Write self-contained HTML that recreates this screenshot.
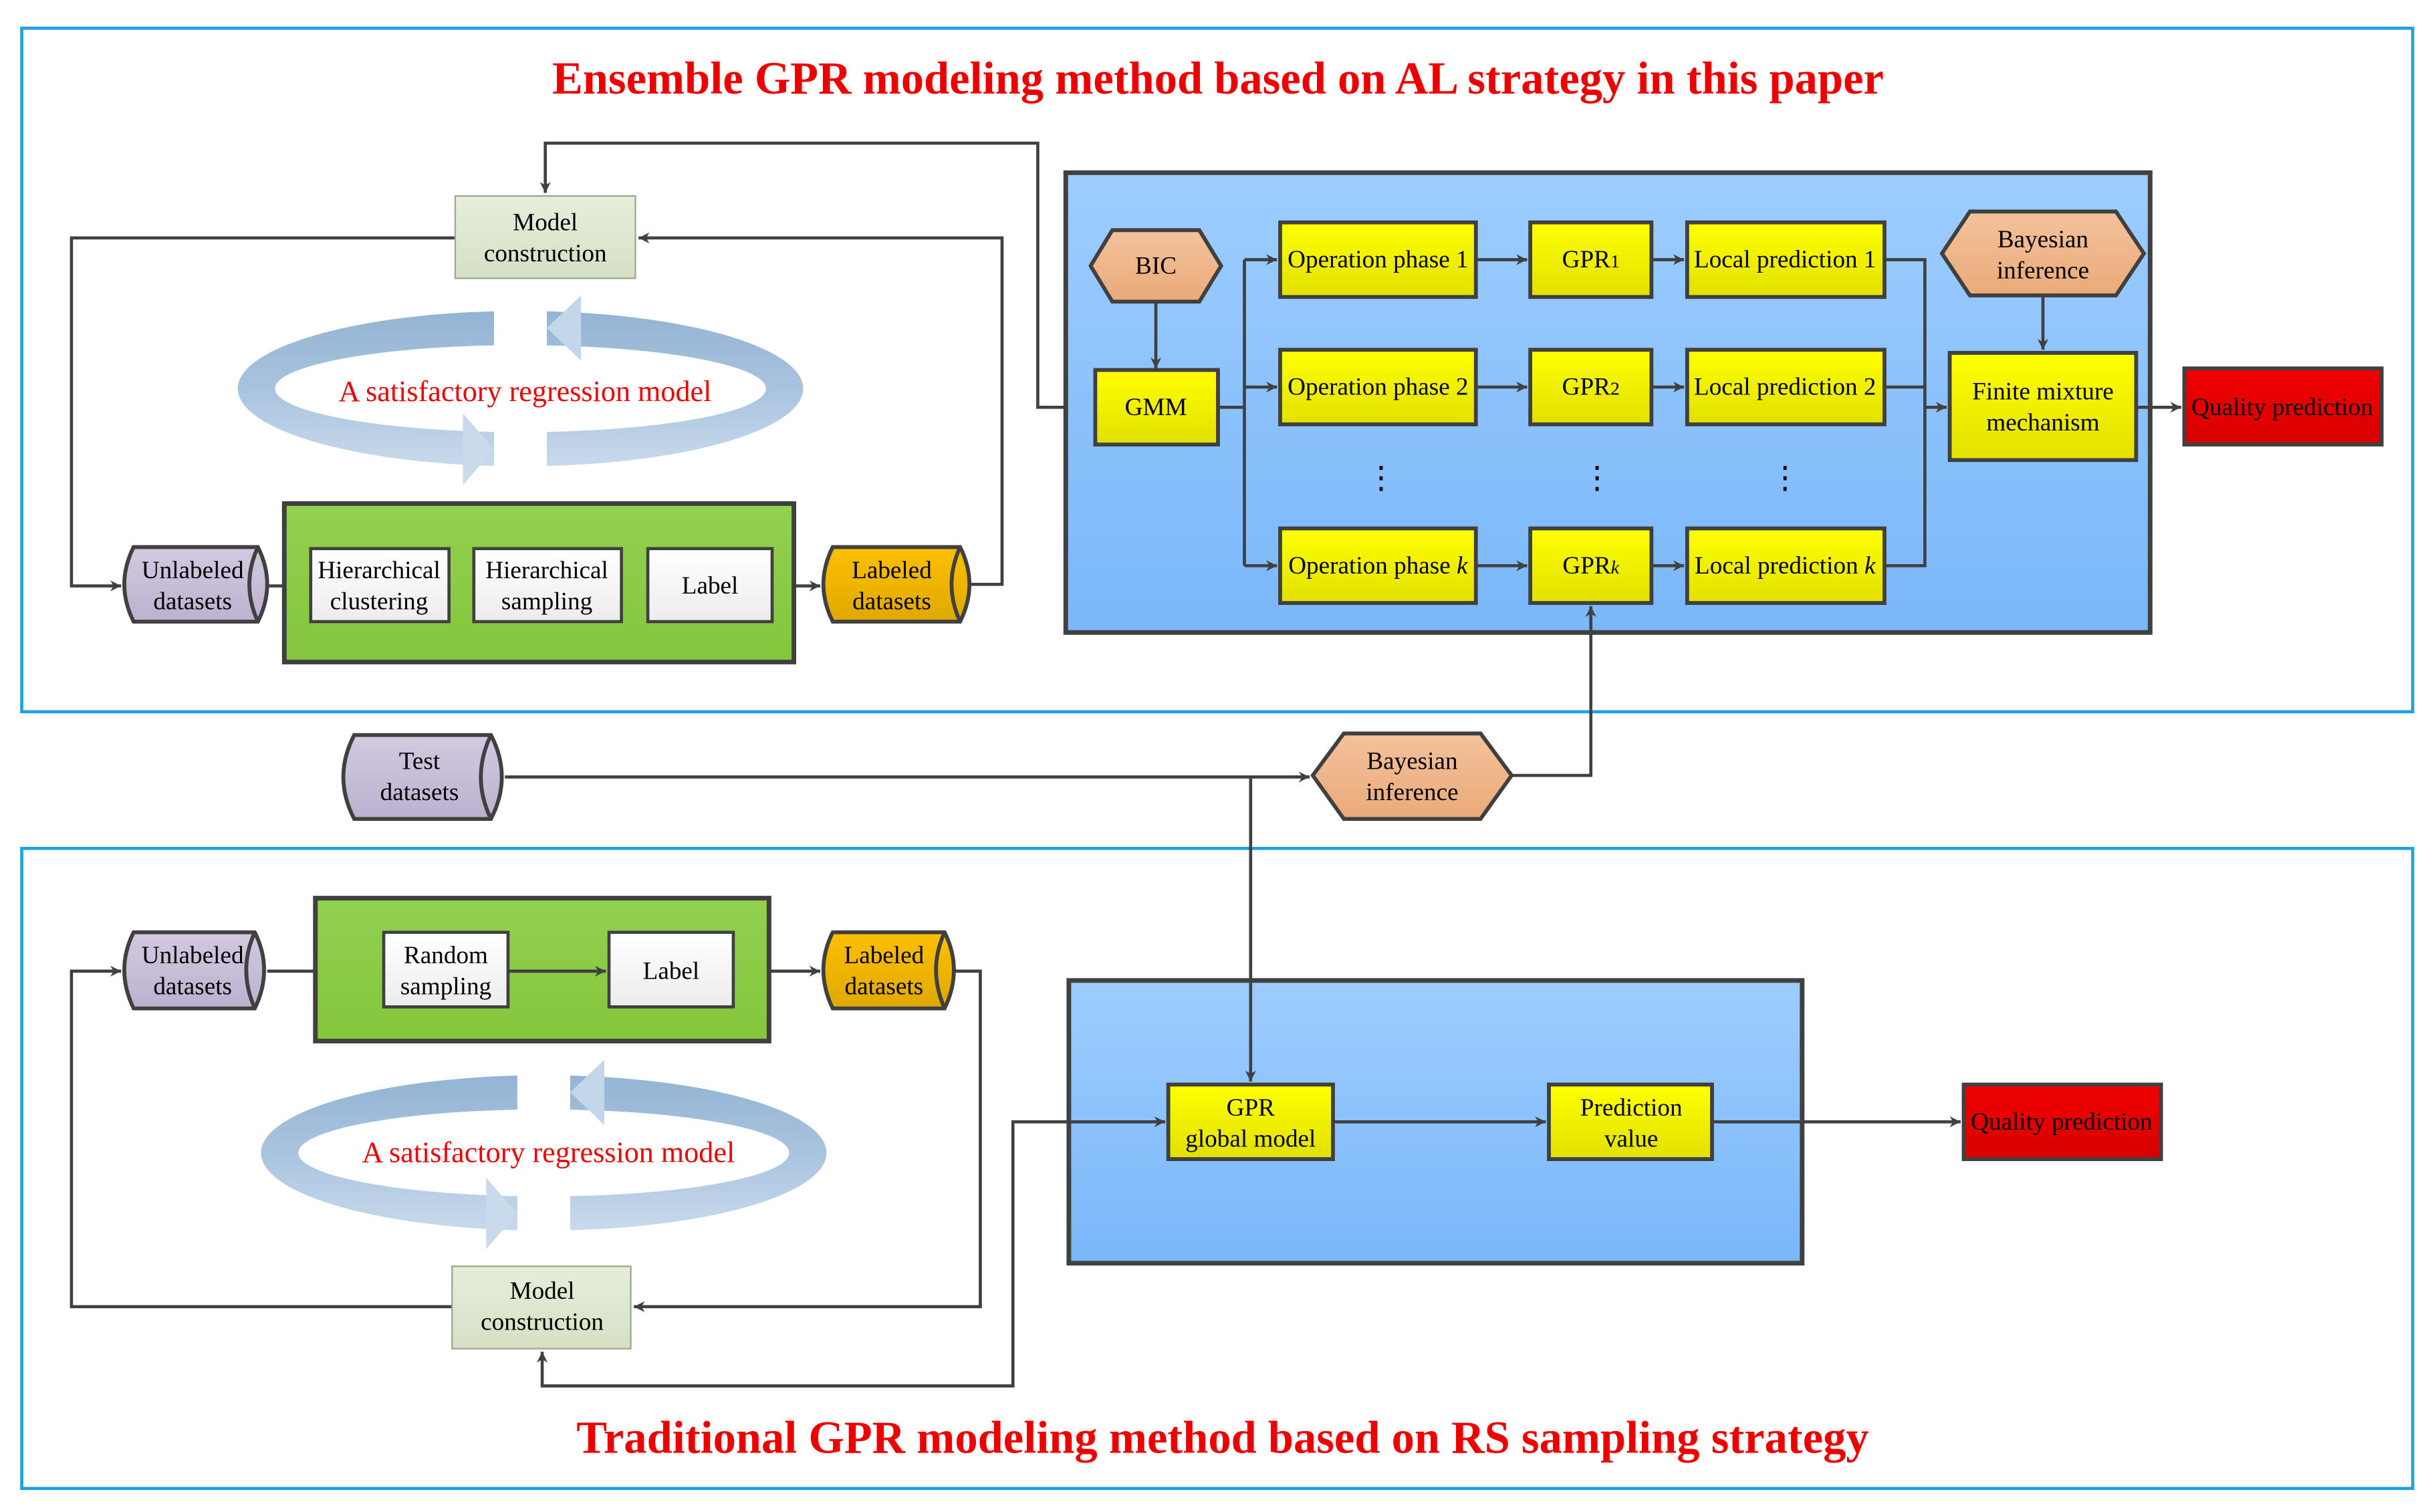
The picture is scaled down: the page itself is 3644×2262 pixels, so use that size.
<!DOCTYPE html>
<html><head><meta charset="utf-8"><style>
html,body{margin:0;padding:0;background:#fff;}
svg{display:block;}
text{font-family:"Liberation Serif","Times New Roman",serif;}
</style></head><body>
<svg width="3644" height="2262" viewBox="0 0 1568 973" xmlns="http://www.w3.org/2000/svg" font-family="Liberation Serif, serif">
<defs>
<marker id="a" viewBox="0 0 10 10" refX="10" refY="5" markerWidth="7" markerHeight="7" markerUnits="userSpaceOnUse" orient="auto-start-reverse">
<path d="M0,0 L10,5 L0,10 L3,5 z" fill="#404040"/></marker>
<linearGradient id="yel" x1="0" y1="0" x2="0" y2="1"><stop offset="0" stop-color="#ffff00"/><stop offset="1" stop-color="#e2e000"/></linearGradient>
<linearGradient id="blue" x1="0" y1="0" x2="0" y2="1"><stop offset="0" stop-color="#9dcdfe"/><stop offset="1" stop-color="#7ab7f9"/></linearGradient>
<linearGradient id="wht" x1="0" y1="0" x2="0" y2="1"><stop offset="0" stop-color="#ffffff"/><stop offset="1" stop-color="#ececec"/></linearGradient>
<linearGradient id="mc" x1="0" y1="0" x2="0" y2="1"><stop offset="0" stop-color="#e6eedb"/><stop offset="1" stop-color="#d6e0c4"/></linearGradient>
<linearGradient id="hex" x1="0" y1="0" x2="0" y2="1"><stop offset="0" stop-color="#f3c29c"/><stop offset="1" stop-color="#eaaa78"/></linearGradient>
<linearGradient id="pur" x1="0" y1="0" x2="0" y2="1"><stop offset="0" stop-color="#d2cae0"/><stop offset="1" stop-color="#bbb1cf"/></linearGradient>
<linearGradient id="org" x1="0" y1="0" x2="0" y2="1"><stop offset="0" stop-color="#fcc000"/><stop offset="1" stop-color="#e0a800"/></linearGradient>
<linearGradient id="grn" x1="0" y1="0" x2="0" y2="1"><stop offset="0" stop-color="#92d050"/><stop offset="1" stop-color="#84c63c"/></linearGradient>
<linearGradient id="red" x1="0" y1="0" x2="0" y2="1"><stop offset="0" stop-color="#f00000"/><stop offset="1" stop-color="#d80000"/></linearGradient>
<linearGradient id="ring" x1="0" y1="0" x2="0" y2="1"><stop offset="0" stop-color="#93b4d5"/><stop offset="0.5" stop-color="#a9c3de"/><stop offset="1" stop-color="#c8daec"/></linearGradient>
<clipPath id="c1"><rect x="0" y="0" width="318" height="400"/><rect x="352" y="0" width="400" height="400"/></clipPath>
<clipPath id="c2"><rect x="0" y="600" width="333" height="300"/><rect x="367" y="600" width="400" height="300"/></clipPath>
</defs>

<rect x="14" y="18" width="1539" height="440" fill="none" stroke="#1ea0e2" stroke-width="2"/>
<rect x="14" y="546" width="1539" height="412" fill="none" stroke="#1ea0e2" stroke-width="2"/>
<text x="784" y="60" text-anchor="middle" font-size="29.5" font-weight="bold" fill="#ee0000">Ensemble GPR modeling method based on AL strategy in this paper</text>
<text x="787" y="935" text-anchor="middle" font-size="29.5" font-weight="bold" fill="#ee0000">Traditional GPR modeling method based on RS sampling strategy</text>

<g stroke="#404040" stroke-width="2" fill="none">
<polyline points="293,153 46,153 46,377 78,377" marker-end="url(#a)"/>
<polyline points="625,376 645,376 645,153 411,153" marker-end="url(#a)"/>
<polyline points="351,124 351,92 668,92 668,262 703,262" marker-start="url(#a)" marker-end="url(#a)"/>
<line x1="172" y1="377" x2="198" y2="377" marker-end="url(#a)"/>
<line x1="289" y1="377" x2="303" y2="377" marker-end="url(#a)"/>
<line x1="400" y1="377" x2="415" y2="377" marker-end="url(#a)"/>
<line x1="497" y1="377" x2="528" y2="377" marker-end="url(#a)"/>
</g>

<g>
<path clip-path="url(#c1)" fill-rule="evenodd" fill="url(#ring)" d="M153,250 A182,50 0 1 0 517,250 A182,50 0 1 0 153,250 Z M177,250 A158,28 0 1 0 493,250 A158,28 0 1 0 177,250 Z"/>
<polygon points="298,266 318,289 298,312" fill="#c8daec"/>
<polygon points="374,190 352,211 374,232" fill="#c4d6ea"/>
<text x="338" y="258" text-anchor="middle" font-size="19" fill="#ee0000">A satisfactory regression model</text>
</g>

<rect x="293" y="126" width="116" height="53" fill="url(#mc)" stroke="#a0a890" stroke-width="1"/>
<text x="351" y="148" text-anchor="middle" font-size="16">Model</text>
<text x="351" y="168" text-anchor="middle" font-size="16">construction</text>

<rect x="183" y="324" width="328" height="102" fill="url(#grn)" stroke="#404040" stroke-width="3"/>
<g stroke="#404040" stroke-width="2">
<rect x="200" y="353" width="89" height="47" fill="url(#wht)"/>
<rect x="305" y="353" width="95" height="47" fill="url(#wht)"/>
<rect x="417" y="353" width="80" height="47" fill="url(#wht)"/>
</g>
<g font-size="16" text-anchor="middle">
<text x="244" y="372">Hierarchical</text><text x="244" y="392">clustering</text>
<text x="352" y="372">Hierarchical</text><text x="352" y="392">sampling</text>
<text x="457" y="382">Label</text>
</g>

<g stroke="#404040" stroke-width="2.5">
<path d="M86,352 L166,352 Q178,376 166,400 L86,400 Q74,376 86,352 Z" fill="url(#pur)"/>
<path d="M166,352 Q155,376 166,400" fill="none"/>
<path d="M536,352 L618,352 Q630,376 618,400 L536,400 Q524,376 536,352 Z" fill="url(#org)"/>
<path d="M618,352 Q607,376 618,400" fill="none"/>
<path d="M228,473 L316,473 Q330,500 316,527 L228,527 Q214,500 228,473 Z" fill="url(#pur)"/>
<path d="M316,473 Q303,500 316,527" fill="none"/>
<path d="M86,600 L164,600 Q176,624 164,649 L86,649 Q74,624 86,600 Z" fill="url(#pur)"/>
<path d="M164,600 Q153,624 164,649" fill="none"/>
<path d="M536,600 L608,600 Q620,624 608,649 L536,649 Q524,624 536,600 Z" fill="url(#org)"/>
<path d="M608,600 Q597,624 608,649" fill="none"/>
</g>
<g font-size="16" text-anchor="middle">
<text x="124" y="372">Unlabeled</text><text x="124" y="392">datasets</text>
<text x="574" y="372">Labeled</text><text x="574" y="392">datasets</text>
<text x="270" y="495">Test</text><text x="270" y="515">datasets</text>
<text x="124" y="620">Unlabeled</text><text x="124" y="640">datasets</text>
<text x="569" y="620">Labeled</text><text x="569" y="640">datasets</text>
</g>

<rect x="686" y="111" width="698" height="296" fill="url(#blue)" stroke="#404040" stroke-width="3"/>
<g stroke="#404040" stroke-width="2" fill="none">
<line x1="744" y1="194" x2="744" y2="237" marker-end="url(#a)"/>
<polyline points="784,262 801,262"/>
<polyline points="801,167 801,364"/>
<line x1="801" y1="167" x2="822" y2="167" marker-end="url(#a)"/>
<line x1="801" y1="249" x2="822" y2="249" marker-end="url(#a)"/>
<line x1="801" y1="364" x2="822" y2="364" marker-end="url(#a)"/>
<line x1="950" y1="167" x2="983" y2="167" marker-end="url(#a)"/>
<line x1="950" y1="249" x2="983" y2="249" marker-end="url(#a)"/>
<line x1="950" y1="364" x2="983" y2="364" marker-end="url(#a)"/>
<line x1="1063" y1="167" x2="1084" y2="167" marker-end="url(#a)"/>
<line x1="1063" y1="249" x2="1084" y2="249" marker-end="url(#a)"/>
<line x1="1063" y1="364" x2="1084" y2="364" marker-end="url(#a)"/>
<polyline points="1213,167 1239,167 1239,364 1213,364"/>
<line x1="1213" y1="249" x2="1239" y2="249"/>
<line x1="1239" y1="262" x2="1253" y2="262" marker-end="url(#a)"/>
<line x1="1315" y1="190" x2="1315" y2="225" marker-end="url(#a)"/>
<line x1="1375" y1="262" x2="1404" y2="262" marker-end="url(#a)"/>
</g>
<g stroke="#404040" stroke-width="2.5">
<polygon points="702,171 716,148 772,148 786,171 772,194 716,194" fill="url(#hex)"/>
<polygon points="1250,163 1268,136 1362,136 1380,163 1362,190 1268,190" fill="url(#hex)"/>
<polygon points="845,499 865,472 953,472 973,499 953,527 865,527" fill="url(#hex)"/>
<rect x="705" y="238" width="79" height="48" fill="url(#yel)"/>
<rect x="824" y="143" width="126" height="48" fill="url(#yel)"/>
<rect x="824" y="225" width="126" height="48" fill="url(#yel)"/>
<rect x="824" y="340" width="126" height="48" fill="url(#yel)"/>
<rect x="985" y="143" width="78" height="48" fill="url(#yel)"/>
<rect x="985" y="225" width="78" height="48" fill="url(#yel)"/>
<rect x="985" y="340" width="78" height="48" fill="url(#yel)"/>
<rect x="1086" y="143" width="127" height="48" fill="url(#yel)"/>
<rect x="1086" y="225" width="127" height="48" fill="url(#yel)"/>
<rect x="1086" y="340" width="127" height="48" fill="url(#yel)"/>
<rect x="1255" y="227" width="120" height="69" fill="url(#yel)"/>
<rect x="1406" y="237" width="127" height="49" fill="url(#red)"/>
</g>
<g font-size="16" text-anchor="middle">
<text x="744" y="176">BIC</text>
<text x="744" y="267">GMM</text>
<text x="887" y="172">Operation phase 1</text>
<text x="887" y="254">Operation phase 2</text>
<text x="887" y="369">Operation phase <tspan font-style="italic">k</tspan></text>
<text x="1024" y="172">GPR<tspan font-size="12">1</tspan></text>
<text x="1024" y="254">GPR<tspan font-size="12">2</tspan></text>
<text x="1024" y="369">GPR<tspan font-size="12" font-style="italic">k</tspan></text>
<text x="1149" y="172">Local prediction 1</text>
<text x="1149" y="254">Local prediction 2</text>
<text x="1149" y="369">Local prediction <tspan font-style="italic">k</tspan></text>
<text x="889" y="314" font-size="20">⋮</text>
<text x="1028" y="314" font-size="20">⋮</text>
<text x="1149" y="314" font-size="20">⋮</text>
<text x="1315" y="159">Bayesian</text><text x="1315" y="179">inference</text>
<text x="1315" y="257">Finite mixture</text><text x="1315" y="277">mechanism</text>
<text x="1469" y="267">Quality prediction</text>
<text x="909" y="495">Bayesian</text><text x="909" y="515">inference</text>
</g>

<g stroke="#404040" stroke-width="2" fill="none">
<line x1="325" y1="500" x2="843" y2="500" marker-end="url(#a)"/>
<polyline points="973,499 1024,499 1024,390" marker-end="url(#a)"/>
<line x1="805" y1="500" x2="805" y2="696" marker-end="url(#a)"/>
</g>

<g stroke="#404040" stroke-width="2" fill="none">
<polyline points="291,841 46,841 46,625 78,625" marker-end="url(#a)"/>
<polyline points="615,625 631,625 631,841 408,841" marker-end="url(#a)"/>
<line x1="172" y1="625" x2="245" y2="625" marker-end="url(#a)"/>
<line x1="472" y1="625" x2="528" y2="625" marker-end="url(#a)"/>
<polyline points="750,722 652,722 652,892 349,892 349,870" marker-start="url(#a)" marker-end="url(#a)"/>
</g>
<rect x="203" y="578" width="292" height="92" fill="url(#grn)" stroke="#404040" stroke-width="3"/>
<g stroke="#404040" stroke-width="2">
<rect x="247" y="600" width="80" height="48" fill="url(#wht)"/>
<rect x="392" y="600" width="80" height="48" fill="url(#wht)"/>
</g>
<g stroke="#404040" stroke-width="2" fill="none">
<line x1="327" y1="625" x2="390" y2="625" marker-end="url(#a)"/>
</g>
<g>
<path clip-path="url(#c2)" fill-rule="evenodd" fill="url(#ring)" d="M168,742 A182,50 0 1 0 532,742 A182,50 0 1 0 168,742 Z M192,742 A158,28 0 1 0 508,742 A158,28 0 1 0 192,742 Z"/>
<polygon points="313,758 333,781 313,804" fill="#c8daec"/>
<polygon points="389,682 367,703 389,724" fill="#c4d6ea"/>
<text x="353" y="748" text-anchor="middle" font-size="19" fill="#ee0000">A satisfactory regression model</text>
</g>
<rect x="291" y="815" width="115" height="53" fill="url(#mc)" stroke="#a0a890" stroke-width="1"/>

<rect x="688" y="631" width="472" height="182" fill="url(#blue)" stroke="#404040" stroke-width="3"/>
<g stroke="#404040" stroke-width="2" fill="none">
<line x1="805" y1="631" x2="805" y2="696" marker-end="url(#a)"/>
<line x1="858" y1="722" x2="995" y2="722" marker-end="url(#a)"/>
<line x1="1102" y1="722" x2="1262" y2="722" marker-end="url(#a)"/>
<line x1="688" y1="722" x2="750" y2="722" marker-end="url(#a)"/>
</g>
<g stroke="#404040" stroke-width="2.5">
<rect x="752" y="698" width="106" height="48" fill="url(#yel)"/>
<rect x="997" y="698" width="105" height="48" fill="url(#yel)"/>
<rect x="1264" y="698" width="127" height="48" fill="url(#red)"/>
</g>
<g font-size="16" text-anchor="middle">
<text x="287" y="620">Random</text><text x="287" y="640">sampling</text>
<text x="432" y="630">Label</text>
<text x="349" y="836">Model</text><text x="349" y="856">construction</text>
<text x="805" y="718">GPR</text><text x="805" y="738">global model</text>
<text x="1050" y="718">Prediction</text><text x="1050" y="738">value</text>
<text x="1327" y="727">Quality prediction</text>
</g>
</svg>
</body></html>
